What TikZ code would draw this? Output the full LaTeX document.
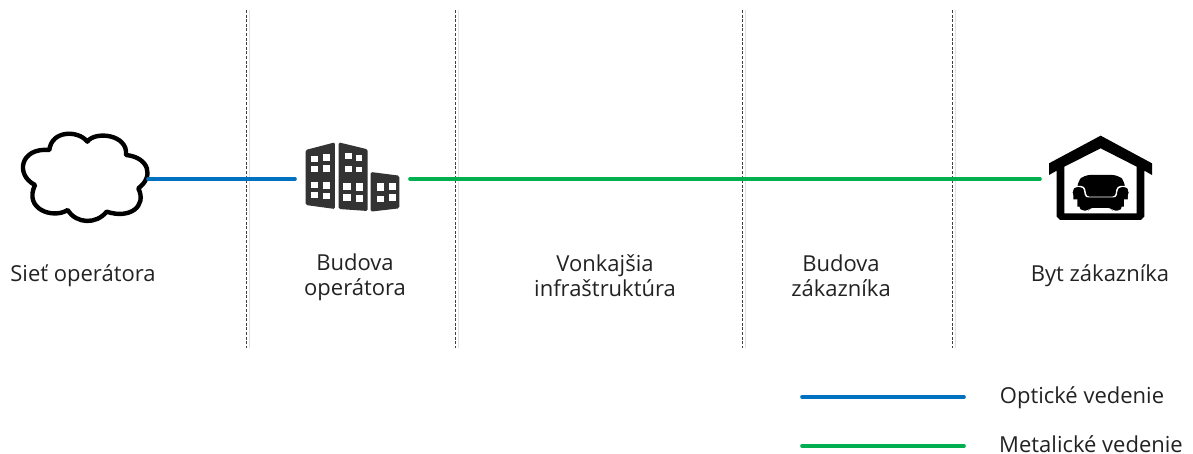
\documentclass[tikz,border=0pt]{standalone}
\usepackage{fontspec}
\setmainfont{Open Sans}
\definecolor{fiber}{HTML}{0070C0}
\definecolor{metal}{HTML}{00B050}
\definecolor{bldg}{HTML}{333333}
\definecolor{ink}{HTML}{222222}
\tikzset{
  wire/.style={line width=3.6pt,line cap=round},
  fiberline/.style={wire,draw=fiber},
  metalline/.style={wire,draw=metal},
  zone/.style={line width=0.8pt,draw=black!75,dash pattern=on 3pt off 1.6pt},
  zoneshadow/.style={line width=0.8pt,draw=black!12},
  label/.style={font=\fontsize{22}{25}\selectfont,text=ink,align=center,inner sep=0pt},
  win/.style={fill=white},
  icon/.style={x=0.3333pt,y=-0.3333pt}
}
\begin{document}
\begin{tikzpicture}[x=1pt,y=-1pt]
\useasboundingbox (0,0) rectangle (1193,454);
% zone separators
\foreach \n/\xx in {a/246,b/455,c/742,d/952}{
  \coordinate (\n t) at (\xx,10);
  \coordinate (\n b) at (\xx,348);
  \draw[zoneshadow] ([xshift=3pt]\n t) -- ([xshift=3pt]\n b);
  \draw[zone] (\n t) -- (\n b);
}
% cloud
\begin{scope}[shift={(0,110)},icon]
\draw[line width=4.4pt,line join=round,fill=white]
 (148,120) .. controls (155,60) and (235,60) .. (262,95)
 .. controls (285,62) and (385,73) .. (378,135)
 .. controls (447,142) and (463,200) .. (415,235)
 .. controls (442,290) and (388,328) .. (320,305)
 .. controls (290,343) and (230,343) .. (203,300)
 .. controls (160,328) and (70,298) .. (105,225)
 .. controls (45,195) and (60,112) .. (148,120) -- cycle;
\end{scope}
% building
\begin{scope}[shift={(0,110)},icon]
\fill[bldg,rounded corners=1.5pt] (917,120) -- (1005,97) -- (1005,297) -- (917,285) -- cycle;
\fill[bldg,rounded corners=1.5pt] (1016,97) -- (1103,118) -- (1103,303) -- (1016,297) -- cycle;
\fill[bldg,rounded corners=1.5pt] (1112,186) -- (1198,197) -- (1198,295) -- (1112,305) -- cycle;
\foreach \a/\b/\c/\d in {933/137/955/155,968/132/990/152,933/167/955/185,968/165/990/187,933/217/955/235,968/217/990/237,933/247/955/265,968/248/990/268,
 1036/130/1056/148,1067/135/1086/153,1036/167/1056/187,1067/170/1086/187,1030/220/1053/240,1067/220/1090/243,1030/252/1053/274,1067/255/1090/277,
 1130/220/1153/243,1167/218/1188/240,1130/257/1153/277,1167/252/1188/274}
  \fill[win] (\a,\b) rectangle (\c,\d);
\end{scope}
% house
\begin{scope}[shift={(1020,120)},icon]
\fill[even odd rule,black]
 (242,47) -- (396,130) -- (396,165) -- (373,152) -- (373,290) -- (363,300) -- (120,300) -- (110,290) -- (110,152) -- (87,165) -- (87,130) -- cycle
 (242,85) -- (350,140) -- (350,280) -- (133,280) -- (133,140) -- cycle;
% sofa back
\fill[black,rounded corners=6pt] (172,235) -- (172,185) -- (192,165) -- (295,165) -- (315,185) -- (315,235) -- cycle;
% sofa arms and seat, outlined in white
\draw[white,line width=1.5pt,fill=black,rounded corners=3pt]
 (158,262) -- (158,200) -- (192,200) -- (198,232) -- (287,232) -- (293,200) -- (326,200) -- (326,262) -- cycle;
\fill[white] (150,190) rectangle (165,204) (320,190) rectangle (335,204);
\fill[black,rounded corners=3pt] (172,232) -- (312,232) -- (305,262) -- (300,272) -- (278,272) -- (275,264) -- (208,264) -- (205,272) -- (185,272) -- (178,262) -- cycle;
\fill[white] (150,238) rectangle (172,270) (312,238) rectangle (335,270);
\fill[black] (175,218) circle[radius=17] (309,218) circle[radius=17];
\end{scope}
% connectors
\coordinate (cloudE) at (148,179);
\coordinate (bldgW) at (295,179);
\coordinate (bldgE) at (410,179);
\coordinate (houseW) at (1040,179);
\draw[fiberline] (cloudE) -- (bldgW);
\draw[metalline] (bldgE) -- (houseW);
% labels
\node[label] (siet) at (83,276) {Sieť operátora};
\node[label] (budop) at (355,277) {Budova\\operátora};
\node[label] (vonk) at (605,276) {Vonkajšia\\infraštruktúra};
\node[label] (budza) at (841,276) {Budova\\zákazníka};
\node[label] (byt) at (1100,276) {Byt zákazníka};
% legend
\coordinate (l1a) at (802,397);
\coordinate (l1b) at (964,397);
\coordinate (l2a) at (802,446);
\coordinate (l2b) at (964,446);
\draw[fiberline] (l1a) -- (l1b);
\draw[metalline] (l2a) -- (l2b);
\node[label] (opt) at (1082,398) {Optické vedenie};
\node[label] (met) at (1091,444.5) {Metalické vedenie};
\end{tikzpicture}
\end{document}
